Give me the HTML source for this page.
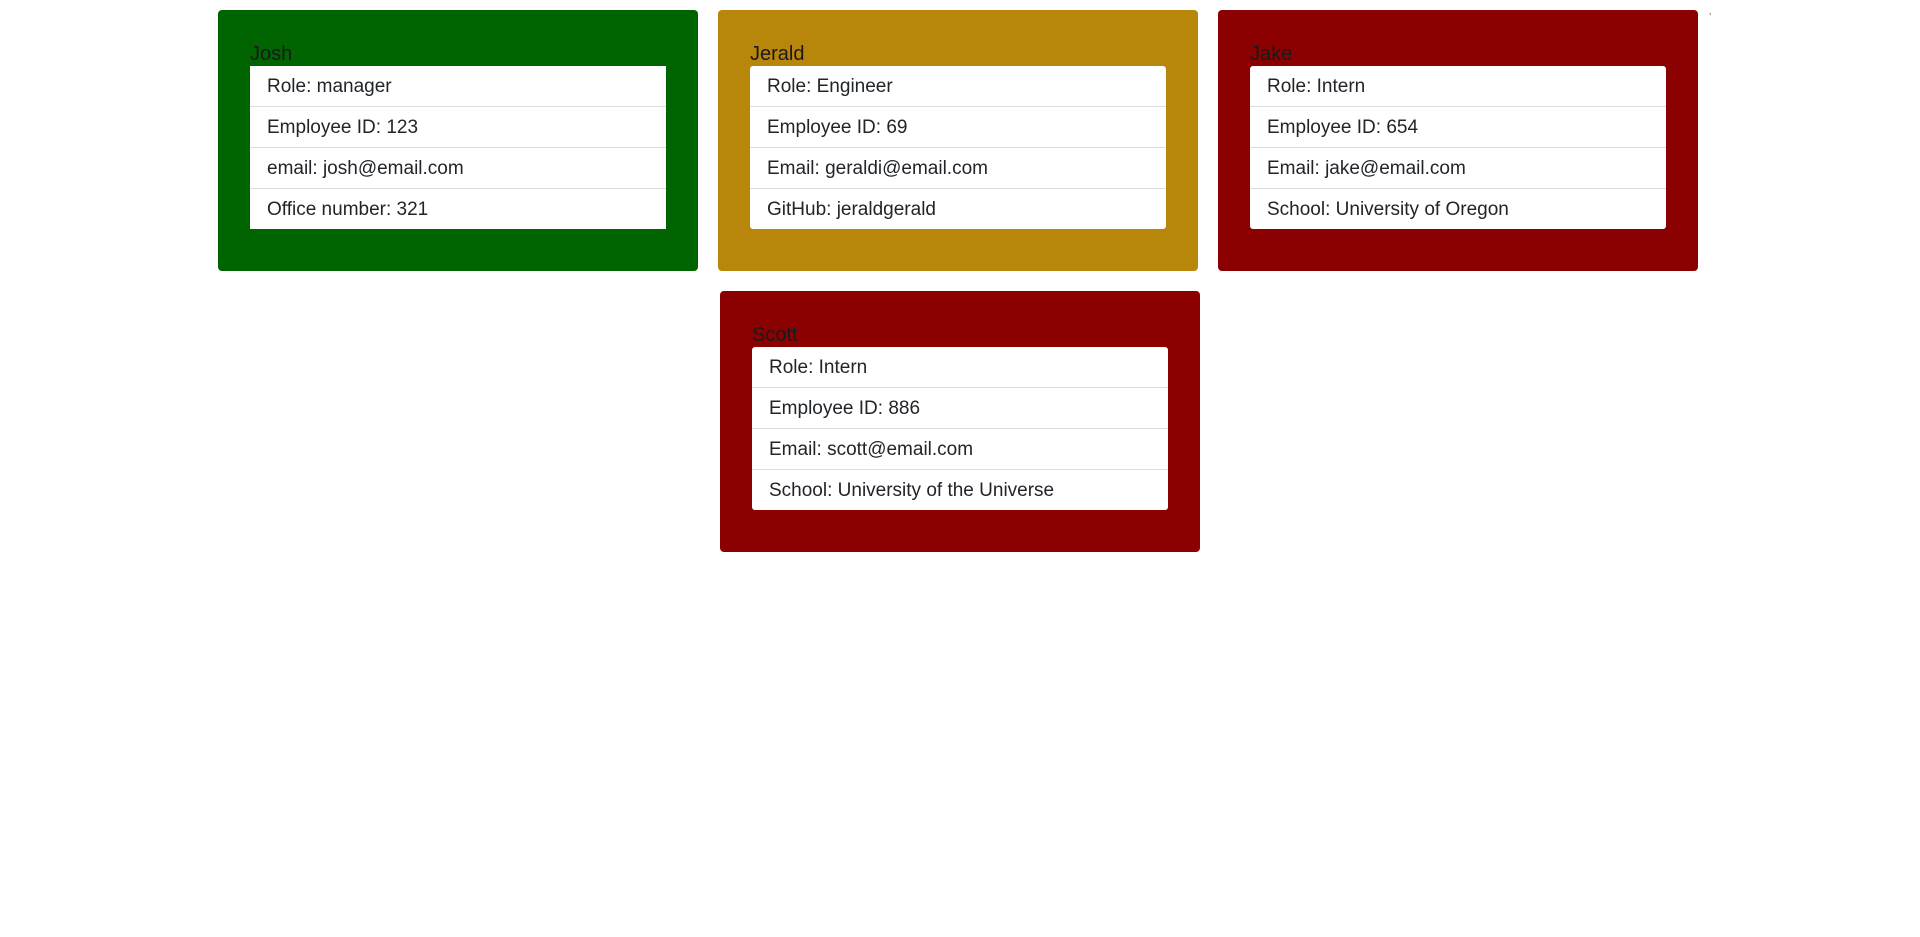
<!DOCTYPE html>
<html><head><meta charset="utf-8"><style>
body{margin:0;width:1920px;height:937px;background:#fff;font-family:"Liberation Sans",sans-serif;color:#212529;position:relative;overflow:hidden}
.card{position:absolute;width:480px;height:261px;border-radius:4px;box-sizing:border-box}
.name{position:absolute;left:32px;top:32px;font-size:20px;line-height:24px;color:#1a1a1a}
.list{position:absolute;left:32px;top:56px;width:416px;background:#fff;border-radius:3px;overflow:hidden}
.list div{height:41px;line-height:41px;padding-left:17px;font-size:19px;border-top:1px solid #dcdcdc;box-sizing:border-box}
.list div:first-child{border-top:none;height:40px}
</style></head><body>
<div class="card" style="left:218px;top:10px;background:#006400">
<div class="name">Josh</div>
<div class="list" style="border-radius:0"><div>Role: manager</div><div>Employee ID: 123</div><div>email: josh@email.com</div><div>Office number: 321</div></div></div>
<div class="card" style="left:718px;top:10px;background:#b8860b">
<div class="name">Jerald</div>
<div class="list"><div>Role: Engineer</div><div>Employee ID: 69</div><div>Email: geraldi@email.com</div><div>GitHub: jeraldgerald</div></div></div>
<div class="card" style="left:1218px;top:10px;background:#8b0000">
<div class="name">Jake</div>
<div class="list"><div>Role: Intern</div><div>Employee ID: 654</div><div>Email: jake@email.com</div><div>School: University of Oregon</div></div></div>
<div class="card" style="left:720px;top:291px;background:#8b0000">
<div class="name">Scott</div>
<div class="list"><div>Role: Intern</div><div>Employee ID: 886</div><div>Email: scott@email.com</div><div>School: University of the Universe</div></div></div>
<div style="position:absolute;left:1709px;top:12px;font-size:10px;color:#555">&#x2019;</div>
</body></html>
